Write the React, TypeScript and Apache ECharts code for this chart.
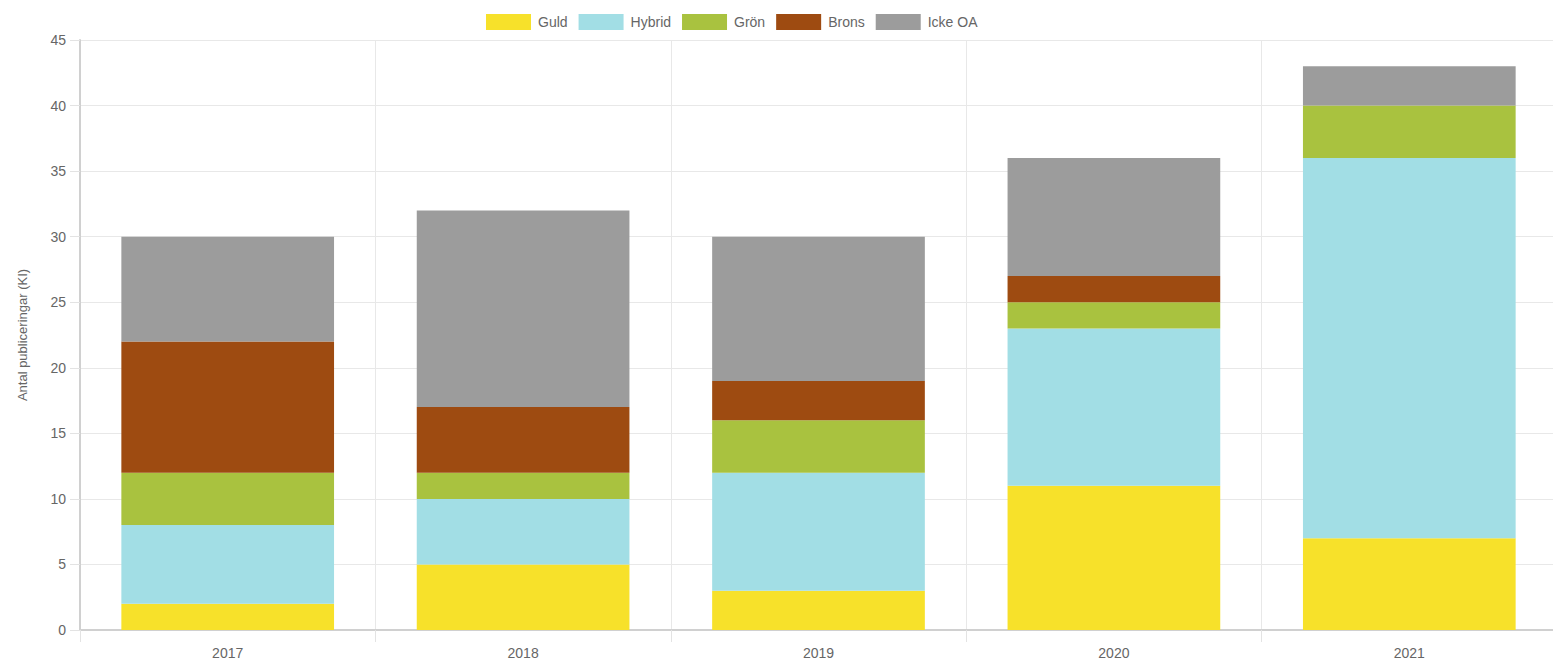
import React, { useEffect, useRef } from "react";
import * as echarts from "echarts";

const years = ["2017", "2018", "2019", "2020", "2021"];
const guld = [2, 5, 3, 11, 7];
const hybrid = [6, 5, 9, 12, 29];
const gron = [4, 2, 4, 2, 4];
const brons = [10, 5, 3, 2, 0];
const ickeOA = [8, 15, 11, 9, 3];

const seriesNames = ["Guld", "Hybrid", "Grön", "Brons", "Icke OA"];
const seriesData = [guld, hybrid, gron, brons, ickeOA];
const colors = ["#F7E12A", "#A2DEE5", "#A9C23F", "#9E4B11", "#9C9C9C"];

export default function App() {
  const ref = useRef<HTMLDivElement>(null);
  useEffect(() => {
    if (!ref.current) return;
    const chart = echarts.init(ref.current, undefined, { renderer: "svg" });
    const font = "'Liberation Sans', Arial, Helvetica, sans-serif";
    chart.setOption({
      animation: false,
      color: colors,
      textStyle: { fontFamily: font },
      legend: {
        top: 9,
        left: 481,
        itemWidth: 45,
        itemHeight: 16,
        itemGap: 11,
        icon: "rect",
        textStyle: { color: "#666", fontSize: 14, fontFamily: font, padding: [0, 0, 0, 2] },
        data: seriesNames,
      },
      grid: { left: 80, right: 0, top: 40, bottom: 31, containLabel: false },
      xAxis: {
        type: "category",
        data: years,
        boundaryGap: true,
        axisLine: { show: true, lineStyle: { color: "#d0d0d0", width: 2 } },
        axisTick: { show: true, length: 12, lineStyle: { color: "#e3e3e3" } },
        axisLabel: { color: "#666", fontSize: 14, margin: 16, fontFamily: font },
        splitLine: { show: true, lineStyle: { color: "#e8e8e8" } },
      },
      yAxis: {
        type: "value",
        min: 0,
        max: 45,
        interval: 5,
        name: "Antal publiceringar (KI)",
        nameLocation: "middle",
        nameGap: 51,
        nameTextStyle: { color: "#666", fontSize: 13, fontFamily: font },
        axisLine: { show: true, lineStyle: { color: "#d0d0d0", width: 2 } },
        axisTick: { show: true, length: 10, lineStyle: { color: "#e3e3e3" } },
        axisLabel: { color: "#666", fontSize: 14, margin: 14, fontFamily: font },
        splitLine: { show: true, lineStyle: { color: "#e8e8e8" } },
      },
      series: seriesNames.map((name, i) => ({
        name,
        type: "bar",
        stack: "total",
        barWidth: "72%",
        data: seriesData[i],
        itemStyle: { color: colors[i] },
      })),
    });
    return () => chart.dispose();
  }, []);
  return (
    <div
      ref={ref}
      style={{ position: "fixed", left: 0, top: 0, width: 1557, height: 661, background: "#fff" }}
    />
  );
}
